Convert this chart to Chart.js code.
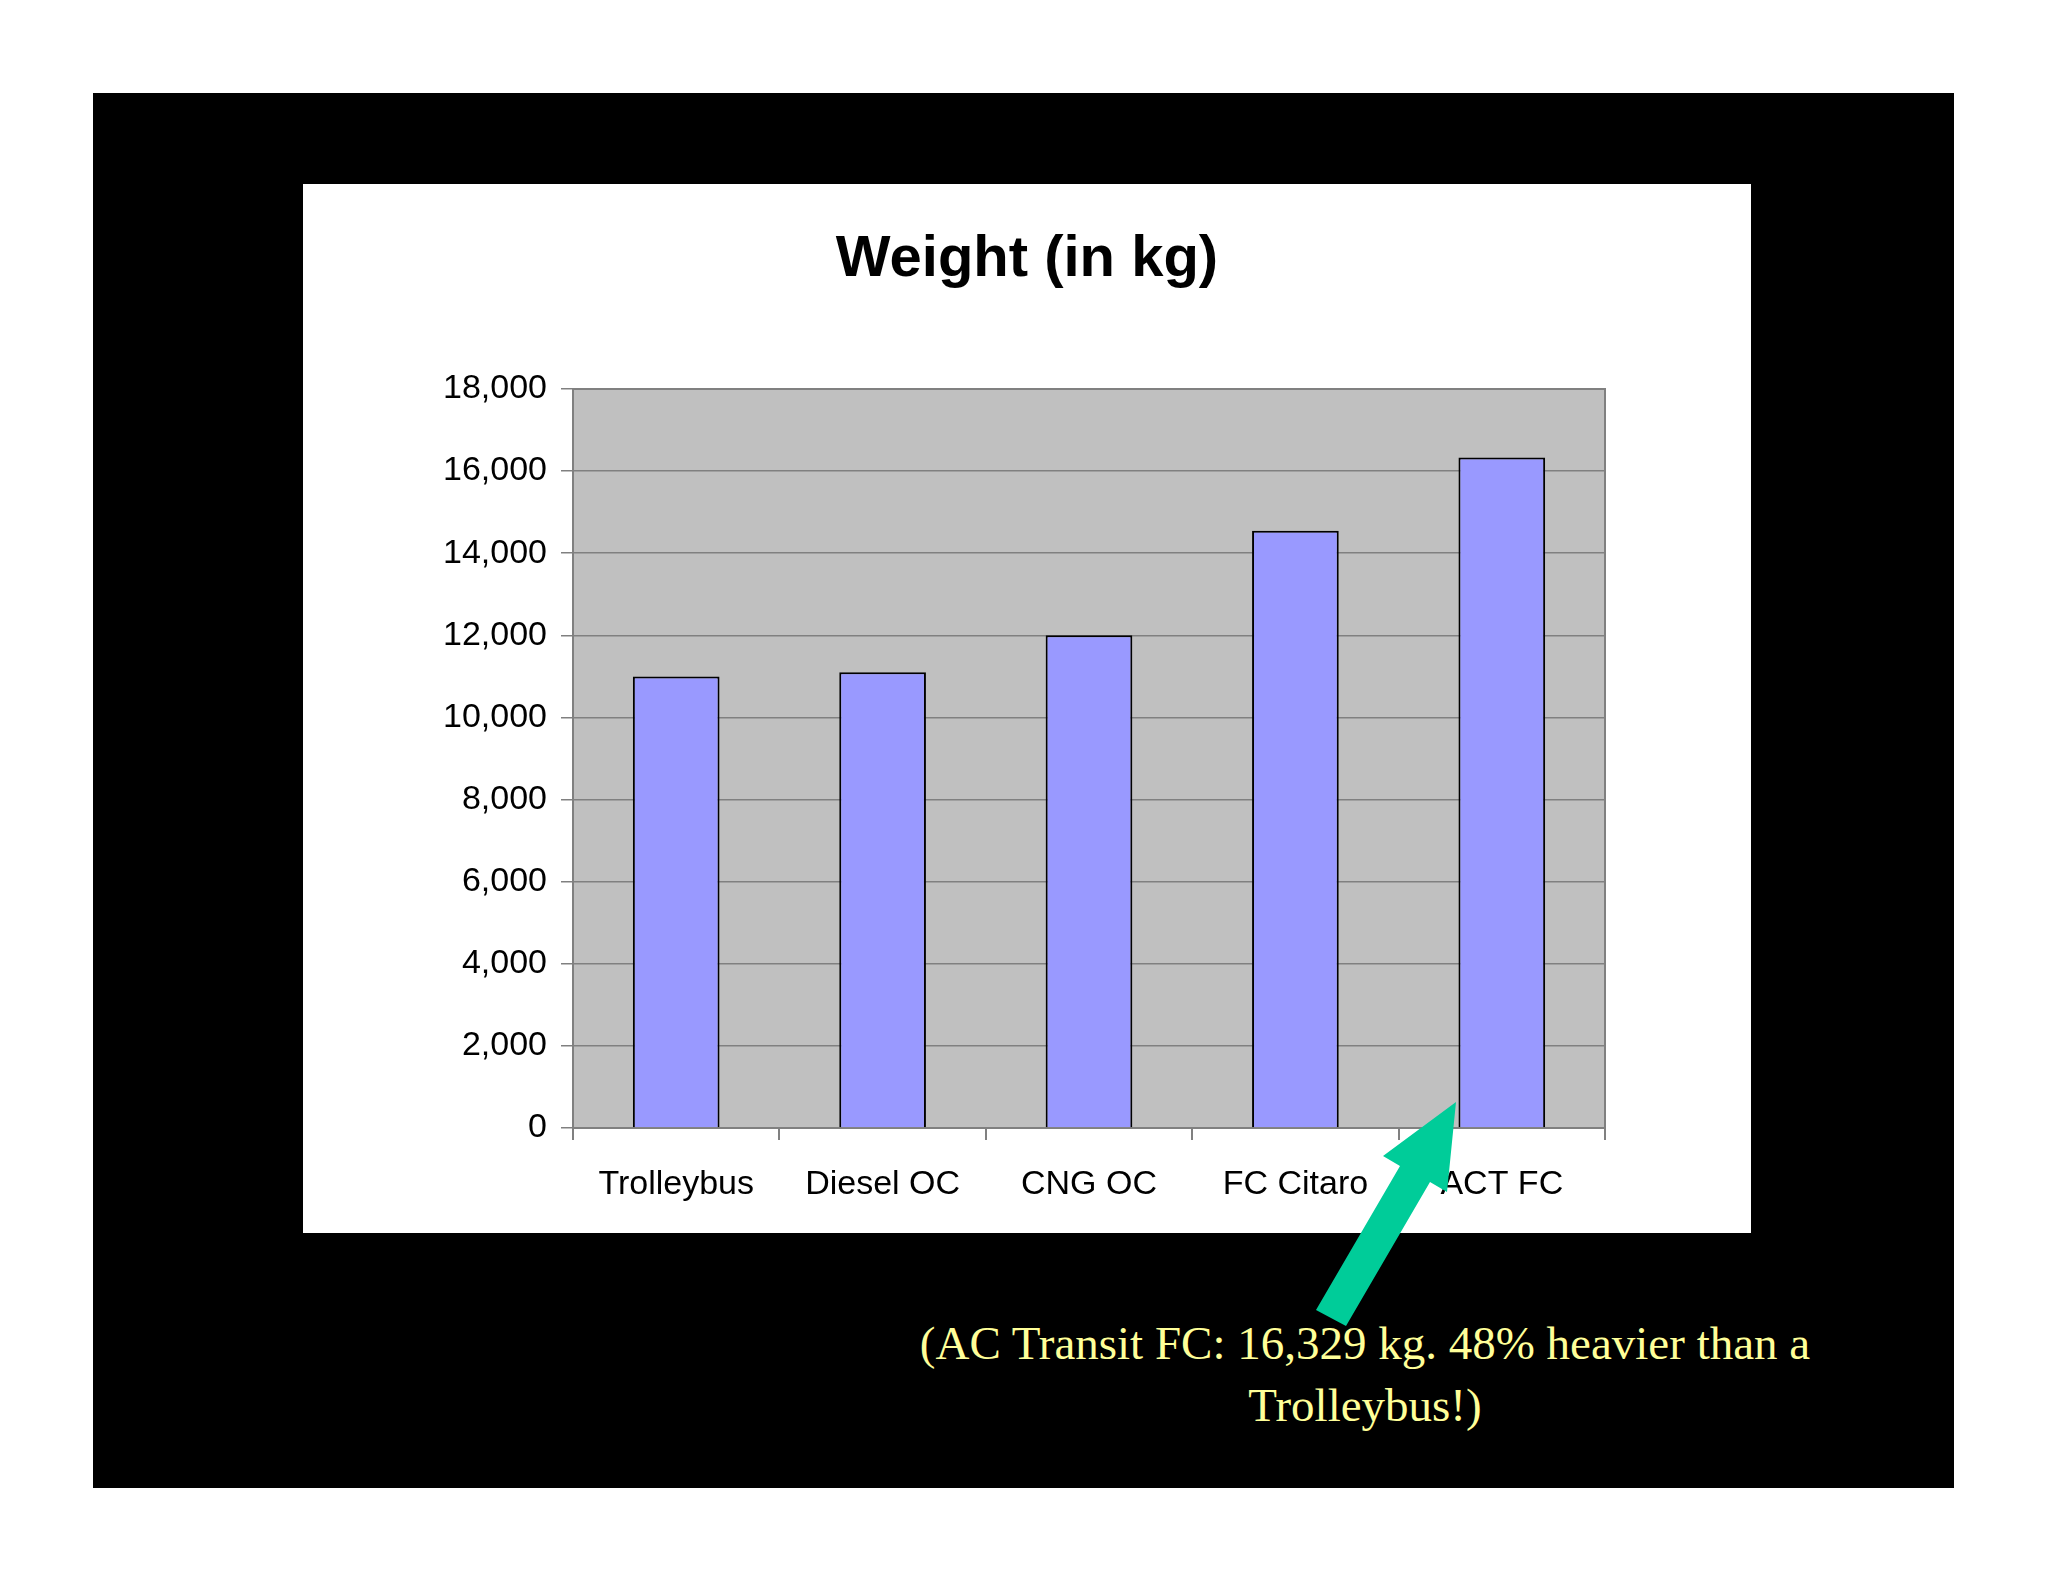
<!DOCTYPE html>
<html>
<head>
<meta charset="utf-8">
<script src="https://cdn.jsdelivr.net/npm/chart.js@4"></script>
<style>
  body { margin: 0; background: #fff; width: 2048px; height: 1582px; position: relative; overflow: hidden; }
  #slide { position: absolute; left: 93px; top: 93px; width: 1861px; height: 1395px; background: #000; }
  #panel { position: absolute; left: 303px; top: 184px; width: 1448px; height: 1049px; background: #fff; }
  #title { position: absolute; left: 303px; top: 222px; width: 1448px; text-align: center;
           font: bold 58px "Liberation Sans", Arial, sans-serif; color: #000; }
  #note { position: absolute; left: 800px; top: 1312px; width: 1130px; text-align: center;
          font: 47px "Liberation Serif", "Times New Roman", serif; color: #ffff99; line-height: 62px; }
  #arrow { position: absolute; left: 0; top: 0; }
</style>
</head>
<body>
<div id="slide"></div>
<div id="panel"><canvas id="chartWeight"></canvas></div>
<div id="title">Weight (in kg)</div>
<div id="note">(AC Transit FC: 16,329 kg. 48% heavier than a<br>Trolleybus!)</div>
<svg id="arrow" width="2048" height="1582">
  <polygon points="1316,1310 1400,1166 1383,1156 1456,1102 1447,1192 1430,1182 1346,1326" fill="#00cc99"/>
</svg>
<script>
const categories = ['Trolleybus', 'Diesel OC', 'CNG OC', 'FC Citaro', 'ACT FC']
const weights = [11000, 11100, 12000, 14550, 16329]
const yTicks = [0, 2000, 4000, 6000, 8000, 10000, 12000, 14000, 16000, 18000]

const ctx = document.getElementById('chartWeight')
ctx.width = 1448
ctx.height = 1049

const plotBackground = {
    id: 'plotBackground',
    beforeDraw(chart) {
        const { ctx, chartArea: a } = chart
        ctx.save()
        ctx.fillStyle = '#c0c0c0'
        ctx.fillRect(a.left, a.top, a.right - a.left, a.bottom - a.top)
        ctx.strokeStyle = '#808080'
        ctx.lineWidth = 2
        ctx.strokeRect(a.left, a.top, a.right - a.left, a.bottom - a.top)
        ctx.restore()
    }
}

Chart.defaults.font.family = '"Liberation Sans", Arial, sans-serif'
Chart.defaults.color = '#000'

new Chart(ctx, {
    type: 'bar',
    data: {
        labels: categories,
        datasets: [{
            data: weights,
            backgroundColor: '#9999ff',
            borderColor: '#000',
            borderWidth: 2,
            barPercentage: 0.42,
            categoryPercentage: 1
        }]
    },
    plugins: [plotBackground],
    options: {
        responsive: false,
        animation: false,
        layout: { padding: { top: 205, right: 146, left: 0, bottom: 0 } },
        plugins: { legend: { display: false }, tooltip: { enabled: false } },
        scales: {
            x: {
                afterFit: s => { s.height = 105 },
                grid: { offset: true, drawOnChartArea: false, color: '#808080', lineWidth: 2, tickLength: 12 },
                border: { color: '#808080', width: 2 },
                ticks: { font: { size: 34 }, padding: 24, maxRotation: 0 }
            },
            y: {
                min: 0, max: 18000,
                afterFit: s => { s.width = 270 },
                afterBuildTicks: s => { s.ticks = yTicks.map(v => ({ value: v })) },
                grid: { color: '#808080', lineWidth: 1.5, tickLength: 12 },
                border: { color: '#808080', width: 2 },
                ticks: { font: { size: 34 }, padding: 14 }
            }
        }
    }
})
</script>
</body>
</html>
